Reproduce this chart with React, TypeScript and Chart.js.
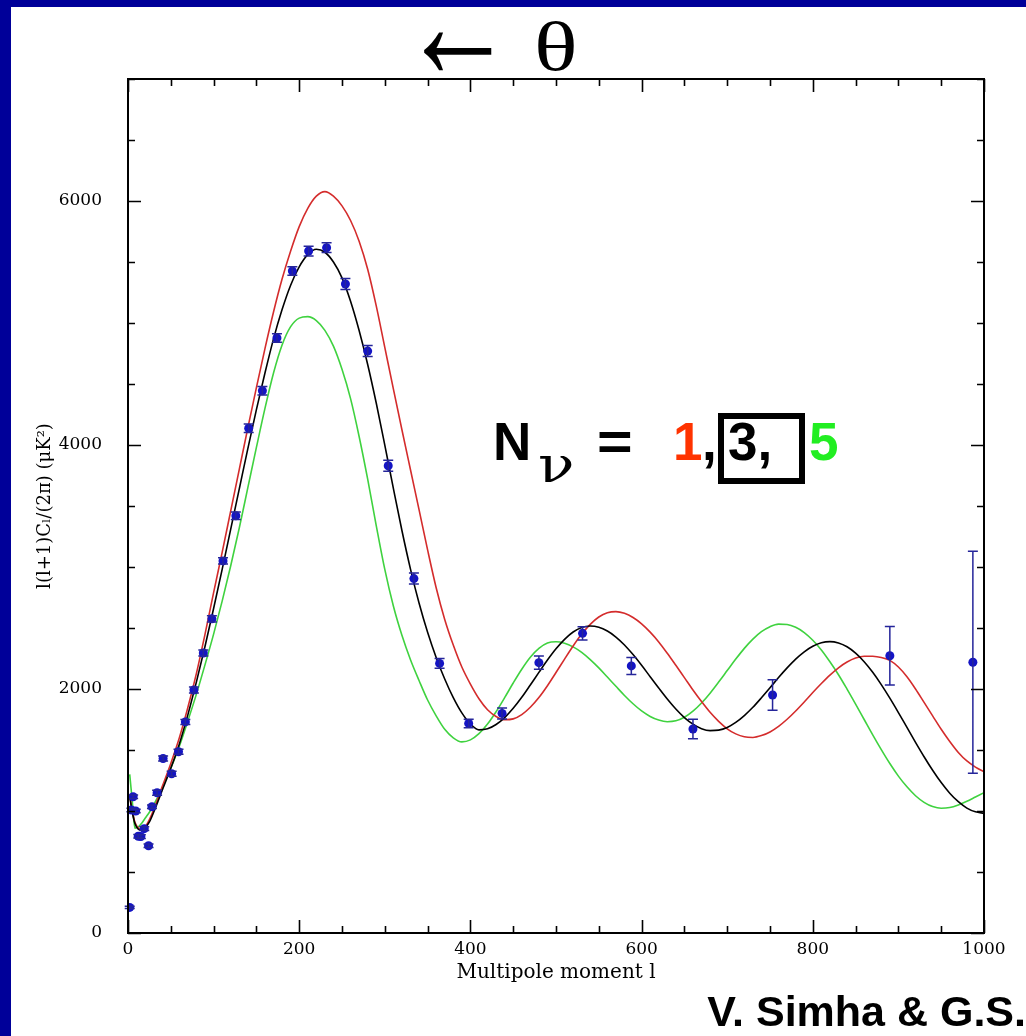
import React, { useEffect, useRef } from "react";
import { Chart, registerables } from "chart.js";

Chart.register(...registerables);

// Multipole moments at which the model curves are sampled
const ells = [
  2, 5, 8, 12, 16, 20, 25, 30, 40, 50, 60, 70, 80, 90, 100, 110, 120, 130, 140, 150,
  160, 170, 180, 190, 200, 210, 220, 230, 240, 250, 260, 270, 280, 290, 300, 310, 320,
  330, 340, 350, 360, 370, 380, 390, 400, 410, 420, 430, 440, 450, 460, 470, 480, 490,
  500, 510, 520, 530, 540, 550, 560, 570, 580, 590, 600, 610, 620, 630, 640, 650, 660,
  670, 680, 690, 700, 710, 720, 730, 740, 750, 760, 770, 780, 790, 800, 810, 820, 830,
  840, 850, 860, 870, 880, 890, 900, 910, 920, 930, 940, 950, 960, 970, 980, 990, 1000,
];

// N_nu = 1 (red)
const model1 = [
  1130, 1000, 910, 860, 850, 870, 930, 1010, 1200, 1390, 1600, 1850, 2130, 2450, 2790, 3120, 3460, 3800, 4140, 4470,
  4790, 5090, 5360, 5590, 5790, 5940, 6040, 6077, 6040, 5960, 5840, 5670, 5440, 5140, 4800, 4460, 4125,
  3797, 3470, 3140, 2830, 2570, 2360, 2180, 2040, 1920, 1830, 1775, 1748, 1755, 1790, 1850, 1930, 2027,
  2135, 2245, 2352, 2450, 2530, 2590, 2625, 2634, 2620, 2586, 2534, 2466, 2386, 2293, 2194, 2093, 1992,
  1897, 1809, 1735, 1674, 1632, 1608, 1603, 1618, 1648, 1694, 1752, 1820, 1894, 1971, 2045, 2114, 2174,
  2221, 2254, 2269, 2268, 2258, 2235, 2180, 2100, 2000, 1890, 1780, 1670, 1570, 1480, 1410, 1360, 1322,
];

// N_nu = 3 (black)
const model3 = [
  1120, 990, 900, 850, 840, 860, 910, 990, 1170, 1350, 1550, 1790, 2060, 2350, 2660, 2980, 3310, 3640, 3970, 4290,
  4590, 4870, 5110, 5310, 5460, 5560, 5604, 5580, 5500, 5370, 5178, 4938, 4660, 4344, 3999, 3644, 3299,
  2983, 2705, 2465, 2259, 2082, 1929, 1804, 1713, 1665, 1674, 1709, 1766, 1842, 1932, 2033, 2136, 2237,
  2329, 2407, 2467, 2504, 2516, 2506, 2475, 2426, 2361, 2282, 2194, 2101, 2008, 1918, 1836, 1766, 1712,
  1675, 1659, 1663, 1685, 1726, 1782, 1850, 1928, 2010, 2094, 2173, 2245, 2305, 2350, 2379, 2388, 2377,
  2346, 2294, 2224, 2137, 2036, 1925, 1807, 1685, 1563, 1445, 1334, 1233, 1146, 1076, 1024, 993, 982,
];

// N_nu = 5 (green)
const model5 = [
  1300, 1080, 860, 870, 900, 940, 990, 1050, 1190, 1350, 1530, 1740, 1960, 2200, 2450, 2720, 3010, 3320, 3650, 3980,
  4300, 4590, 4820, 4970, 5040, 5052, 5020, 4940, 4810, 4620, 4380, 4070, 3720, 3340, 2980, 2680, 2440,
  2240, 2070, 1910, 1780, 1670, 1600, 1567, 1583, 1634, 1713, 1814, 1929, 2049, 2162, 2260, 2333, 2377,
  2387, 2375, 2345, 2300, 2241, 2173, 2098, 2022, 1947, 1879, 1820, 1775, 1745, 1732, 1739, 1768, 1818,
  1885, 1966, 2057, 2151, 2245, 2333, 2409, 2470, 2511, 2532, 2529, 2506, 2463, 2400, 2320, 2223, 2117,
  1999, 1876, 1750, 1624, 1503, 1389, 1286, 1198, 1125, 1071, 1036, 1022, 1028, 1050, 1080, 1115, 1150,
];

// Measured band powers
const dataEll = [
  2, 4, 6, 9, 12, 15, 19, 24, 28, 34, 41, 51, 59, 67, 77, 88, 98, 111, 126, 141,
  157, 174, 192, 211, 232, 254, 280, 304, 334, 364, 398, 437, 480, 531, 588, 660, 753, 890, 987,
];
const dataPower = [
  210, 1008, 1117, 1000, 793, 790, 855, 715, 1035, 1150, 1430, 1305, 1486, 1730, 1992, 2295, 2575, 3050, 3420, 4137,
  4445, 4877, 5426, 5590, 5617, 5320, 4770, 3830, 2905, 2210, 1718, 1800, 2216, 2456, 2189, 1672, 1951, 2273, 2219,
];
const dataError = [
  10, 15, 15, 15, 15, 15, 15, 15, 15, 20, 20, 20, 20, 20, 25, 25, 25, 25, 30, 35,
  35, 35, 35, 40, 40, 45, 45, 45, 45, 40, 35, 45, 55, 55, 70, 80, 125, 240, 910,
];

// Axis ticks
const xTickValues = [0, 200, 400, 600, 800, 1000];
const yTickValues = [0, 2000, 4000, 6000];
const X_MIN = 0;
const X_MAX = 1000;
const X_MAJOR = 200;
const X_MINOR = 50;
const Y_MIN = 0;
const Y_MAX = 7000;
const Y_MAJOR = 2000;
const Y_MINOR = 500;

const xTitle = "Multipole moment l";
const yTitle = "l(l+1)C\u2097/(2\u03c0) (\u03bcK\u00b2)";

const serif = "'DejaVu Serif', 'Liberation Serif', serif";
const sans = "'Liberation Sans', Arial, 'DejaVu Sans', sans-serif";
const tserif = "'Liberation Serif', 'DejaVu Serif', serif";

const frameTicks = {
  id: "frameTicks",
  afterDraw(chart: any) {
    const { ctx, chartArea, scales } = chart;
    const { left, right, top, bottom } = chartArea;
    const x = scales.x;
    const y = scales.y;
    ctx.save();
    ctx.strokeStyle = "#000";
    ctx.lineWidth = 1.6;
    ctx.beginPath();
    for (let v = X_MIN; v <= X_MAX; v += X_MINOR) {
      const px = Math.round(x.getPixelForValue(v)) + 0.5;
      const len = v % X_MAJOR === 0 ? 13 : 7;
      ctx.moveTo(px, bottom);
      ctx.lineTo(px, bottom - len);
      ctx.moveTo(px, top);
      ctx.lineTo(px, top + len);
    }
    for (let v = Y_MIN; v <= Y_MAX; v += Y_MINOR) {
      const py = Math.round(y.getPixelForValue(v)) + 0.5;
      const len = v % Y_MAJOR === 0 ? 13 : 7;
      ctx.moveTo(left, py);
      ctx.lineTo(left + len, py);
      ctx.moveTo(right, py);
      ctx.lineTo(right - len, py);
    }
    ctx.stroke();
    ctx.lineWidth = 2;
    ctx.strokeRect(left, top, right - left, bottom - top);
    ctx.restore();
  },
};

const errorBars = {
  id: "errorBars",
  afterDatasetsDraw(chart: any) {
    const { ctx, scales } = chart;
    const x = scales.x;
    const y = scales.y;
    ctx.save();
    ctx.strokeStyle = "#25259a";
    ctx.lineWidth = 1.5;
    ctx.beginPath();
    dataEll.forEach((l, i) => {
      const px = x.getPixelForValue(l);
      const yt = y.getPixelForValue(dataPower[i] + dataError[i]);
      const yb = y.getPixelForValue(dataPower[i] - dataError[i]);
      ctx.moveTo(px, yt);
      ctx.lineTo(px, yb);
      ctx.moveTo(px - 5, yt);
      ctx.lineTo(px + 5, yt);
      ctx.moveTo(px - 5, yb);
      ctx.lineTo(px + 5, yb);
    });
    ctx.stroke();
    ctx.restore();
  },
};

function ChartCanvas() {
  const ref = useRef<HTMLCanvasElement | null>(null);
  useEffect(() => {
    if (!ref.current) return;
    const line = (vals: number[], color: string) => ({
      type: "line" as const,
      data: ells.map((l, i) => ({ x: l, y: vals[i] })),
      borderColor: color,
      borderWidth: 1.6,
      pointRadius: 0,
      fill: false,
      cubicInterpolationMode: "monotone" as const,
    });
    const chart = new Chart(ref.current, {
      type: "scatter",
      data: {
        datasets: [
          {
            type: "scatter",
            data: dataEll.map((l, i) => ({ x: l, y: dataPower[i] })),
            backgroundColor: "#1414c4",
            borderColor: "#1414c4",
            borderWidth: 0,
            pointRadius: 4.5,
          } as any,
          line(model3, "#000000"),
          line(model1, "#d42c2c"),
          line(model5, "#3fd23f"),
        ],
      },
      options: {
        responsive: false,
        animation: false,
        events: [],
        layout: { padding: { left: 0, top: 79, right: 42, bottom: 0 } },
        plugins: { legend: { display: false }, tooltip: { enabled: false } },
        scales: {
          x: {
            type: "linear",
            min: X_MIN,
            max: X_MAX,
            grid: { display: false, drawTicks: false },
            border: { display: false },
            afterBuildTicks: (s: any) => {
              s.ticks = xTickValues.map((v) => ({ value: v }));
            },
            ticks: {
              autoSkip: false,
              maxRotation: 0,
              padding: 6,
              color: "#000",
              font: { family: serif, size: 17 },
              callback: (v: any) => String(v),
            },
            title: {
              display: true,
              text: xTitle,
              color: "#000",
              font: { family: serif, size: 20 },
              padding: { top: 0, bottom: 51 },
            },
            afterFit: (s: any) => {
              s.height = 103;
            },
          },
          y: {
            type: "linear",
            min: Y_MIN,
            max: Y_MAX,
            grid: { display: false, drawTicks: false },
            border: { display: false },
            afterBuildTicks: (s: any) => {
              s.ticks = yTickValues.map((v) => ({ value: v }));
            },
            ticks: {
              autoSkip: false,
              padding: 26,
              color: "#000",
              font: { family: serif, size: 17 },
              callback: (v: any) => String(v),
            },
            title: {
              display: true,
              text: yTitle,
              color: "#000",
              font: { family: serif, size: 18 },
              padding: { top: 35, bottom: 0 },
            },
            afterFit: (s: any) => {
              s.width = 128;
            },
          },
        },
      },
      plugins: [frameTicks, errorBars],
    } as any);
    return () => chart.destroy();
  }, []);
  return (
    <canvas
      ref={ref}
      width={1026}
      height={1036}
      style={{ position: "absolute", left: 0, top: 0, width: 1026, height: 1036 }}
    />
  );
}

const abs = (left: number, top: number, extra: any = {}) => ({
  position: "absolute" as const,
  left,
  top,
  lineHeight: 1,
  whiteSpace: "nowrap" as const,
  margin: 0,
  ...extra,
});

export default function App() {
  const big = { fontFamily: sans, fontWeight: 700, fontSize: 53, color: "#000" };
  return (
    <div
      style={{
        position: "fixed",
        left: 0,
        top: 0,
        width: 1026,
        height: 1036,
        background: "#ffffff",
        overflow: "hidden",
      }}
    >
      <ChartCanvas />
      <div style={{ position: "absolute", left: 0, top: 0, width: 11, height: 1036, background: "#000099" }} />
      <div style={{ position: "absolute", left: 0, top: 0, width: 1026, height: 7, background: "#000099" }} />

      <span
        style={abs(401, 3, {
          fontFamily: tserif,
          fontSize: 70,
          color: "#000",
          transform: "scale(1.62, 2.3)",
          transformOrigin: "0px 45px",
        })}
      >
        {"\u2190"}
      </span>
      <span
        style={abs(534, 12, {
          fontFamily: tserif,
          fontSize: 70,
          color: "#000",
          transform: "scaleX(1.3)",
          transformOrigin: "0px 0px",
        })}
      >
        {"\u03b8"}
      </span>

      <span style={abs(493, 415, big)}>N</span>
      <span
        style={abs(538, 440, {
          fontFamily: serif,
          fontSize: 50,
          color: "#000",
          transform: "scaleX(1.2)",
          transformOrigin: "0px 0px",
        })}
      >
        {"\u03bd"}
      </span>
      <span style={abs(597, 415, { ...big, transform: "scaleX(1.15)", transformOrigin: "0px 0px" })}>=</span>
      <span style={abs(673, 415, { ...big, color: "#ff3300" })}>1</span>
      <span style={abs(702, 415, big)}>,</span>
      <div
        style={{
          position: "absolute",
          left: 718,
          top: 413,
          width: 87,
          height: 71,
          border: "6px solid #000",
          boxSizing: "border-box",
        }}
      />
      <span style={abs(728, 415, big)}>3,</span>
      <span style={abs(809, 415, { ...big, color: "#22ee22" })}>5</span>

      <span
        style={{
          position: "absolute",
          right: 0,
          top: 990,
          lineHeight: 1,
          whiteSpace: "nowrap",
          fontFamily: sans,
          fontWeight: 700,
          fontSize: 43,
          color: "#000",
        }}
      >
        V. Simha &amp; G.S.
      </span>
    </div>
  );
}
